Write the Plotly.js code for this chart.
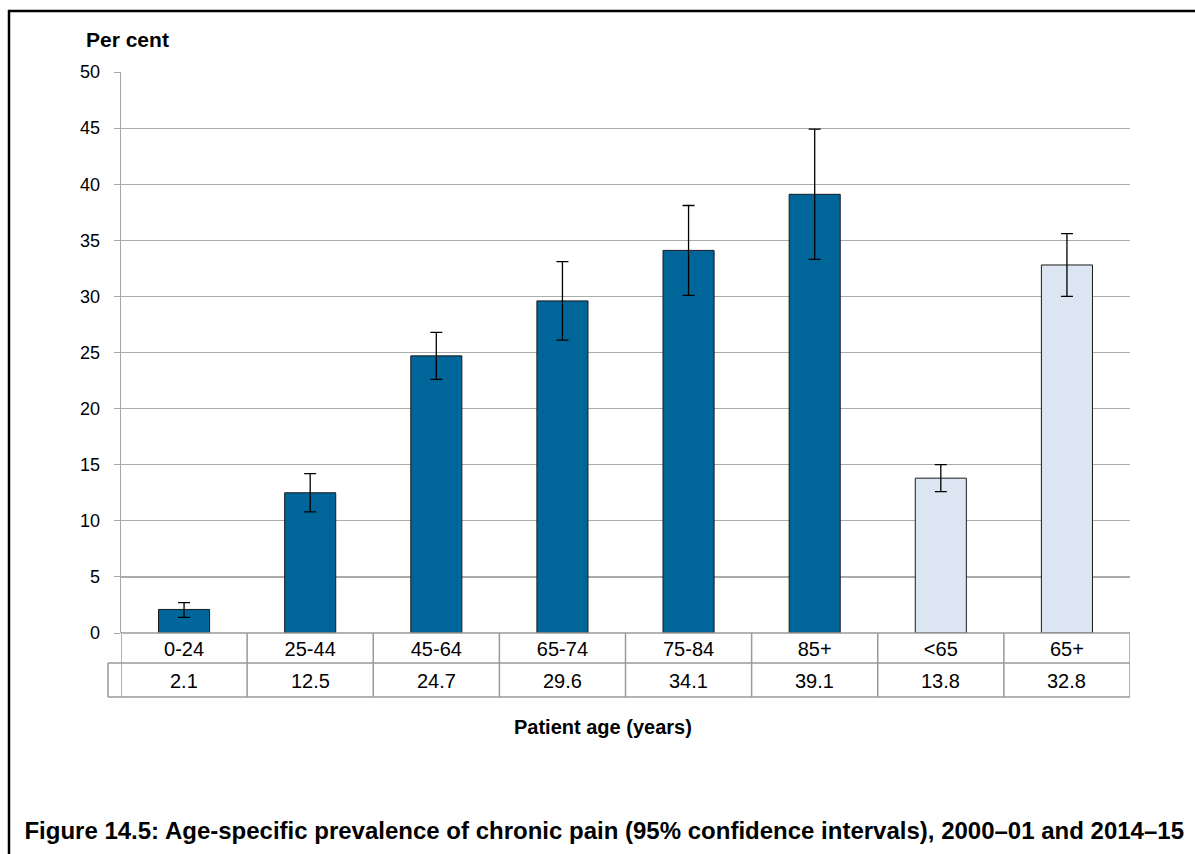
<!DOCTYPE html>
<html>
<head>
<meta charset="utf-8">
<script src="https://cdn.plot.ly/plotly-3.0.1.min.js"></script>
<style>html,body{margin:0;padding:0;background:#fff;}#chart{width:1195px;height:854px;}</style>
</head>
<body>
<div id="chart"></div>
<script>
const categories = ["0-24", "25-44", "45-64", "65-74", "75-84", "85+", "<65", "65+"];
const prevalence = [2.1, 12.5, 24.7, 29.6, 34.1, 39.1, 13.8, 32.8];
const ciUpper = [2.7, 14.2, 26.8, 33.1, 38.1, 44.9, 15.0, 35.6];
const ciLower = [1.4, 10.8, 22.6, 26.1, 30.1, 33.3, 12.6, 30.0];
const barColors = ["#006699", "#006699", "#006699", "#006699", "#006699", "#006699", "#dce6f2", "#dce6f2"];
const yTicks = [0, 5, 10, 15, 20, 25, 30, 35, 40, 45, 50];

const FONT = "Liberation Sans, Arial, sans-serif";
const idx = categories.map((c, i) => i);

const trace = {
  type: "bar",
  x: idx,
  y: prevalence,
  marker: { color: barColors, line: { color: "#1a1a1a", width: 1 } },
  width: 0.405,
  error_y: {
    type: "data",
    symmetric: false,
    array: prevalence.map((v, i) => +(ciUpper[i] - v).toFixed(2)),
    arrayminus: prevalence.map((v, i) => +(v - ciLower[i]).toFixed(2)),
    color: "#000",
    thickness: 1.3,
    width: 6
  },
  hoverinfo: "none",
  showlegend: false
};

// Table grid (data table under the axis)
const tableLine = { color: "#9a9a9a", width: 1.5 };
const row1Bottom = (633 - 663) / 561;
const row2Bottom = (633 - 697) / 561;
const shapes = [];
for (let k = 0; k <= categories.length; k++) {
  shapes.push({ type: "line", xref: "x", yref: "paper", x0: k - 0.5, x1: k - 0.5, y0: 0, y1: row2Bottom, line: tableLine });
}
shapes.push({ type: "line", xref: "paper", yref: "paper", x0: 0, x1: 1, y0: 0, y1: 0, line: tableLine });
shapes.push({ type: "line", xref: "paper", yref: "paper", x0: (108 - 121) / 1009, x1: 1, y0: row1Bottom, y1: row1Bottom, line: tableLine });
shapes.push({ type: "line", xref: "paper", yref: "paper", x0: (108 - 121) / 1009, x1: 1, y0: row2Bottom, y1: row2Bottom, line: tableLine });
shapes.push({ type: "line", xref: "paper", yref: "paper", x0: (108 - 121) / 1009, x1: (108 - 121) / 1009, y0: row1Bottom, y1: row2Bottom, line: tableLine });
// Outer figure frame (left and top)
shapes.push({ type: "line", xref: "paper", yref: "paper", x0: (9 - 121) / 1009, x1: (9 - 121) / 1009, y0: (633 - 10) / 561, y1: (633 - 870) / 561, line: { color: "#000", width: 2.5 } });
shapes.push({ type: "line", xref: "paper", yref: "paper", x0: (8 - 121) / 1009, x1: (1200 - 121) / 1009, y0: (633 - 11) / 561, y1: (633 - 11) / 561, line: { color: "#000", width: 2.5 } });

const annotations = categories.map((c, i) => ({
  x: i, xref: "x", y: (633 - 680.5) / 561, yref: "paper",
  text: prevalence[i].toFixed(1), showarrow: false,
  font: { family: FONT, size: 20, color: "#000" }, xanchor: "center", yanchor: "middle"
}));
annotations.push({
  x: (84 - 121) / 1009, xref: "paper", y: (633 - 40) / 561, yref: "paper",
  text: "<b>Per cent</b>", showarrow: false, xanchor: "left", yanchor: "middle",
  font: { family: FONT, size: 21, color: "#000" }
});
annotations.push({
  x: (603 - 121) / 1009, xref: "paper", y: (633 - 727) / 561, yref: "paper",
  text: "<b>Patient age (years)</b>", showarrow: false, xanchor: "center", yanchor: "middle",
  font: { family: FONT, size: 20, color: "#000" }
});

const layout = {
  width: 1195, height: 854,
  margin: { l: 121, r: 65, t: 72, b: 221 },
  paper_bgcolor: "#fff", plot_bgcolor: "#fff",
  font: { family: FONT, color: "#000" },
  title: {
    text: "<b>Figure 14.5: Age-specific prevalence of chronic pain (95% confidence intervals), 2000–01 and 2014–15</b>",
    x: 1184 / 1195, xanchor: "right", xref: "container",
    y: 1 - 831 / 854, yanchor: "middle", yref: "container",
    font: { family: FONT, size: 24, color: "#000" }
  },
  xaxis: {
    range: [-0.5, categories.length - 0.5],
    tickmode: "array", tickvals: idx, ticktext: categories,
    tickfont: { family: FONT, size: 20, color: "#000" },
    ticks: "", showgrid: false, zeroline: false, showline: false,
    ticklabelstandoff: 2, fixedrange: true
  },
  yaxis: {
    range: [0, 50], tickmode: "array", tickvals: yTicks,
    tickfont: { family: FONT, size: 18, color: "#000" },
    ticks: "outside", ticklen: 6, tickcolor: "#a6a6a6", tickwidth: 1,
    ticklabelstandoff: 10,
    showgrid: true, gridcolor: "#ababab", gridwidth: 1.2,
    showline: true, linecolor: "#a6a6a6", linewidth: 1.3,
    zeroline: false, fixedrange: true
  },
  shapes: shapes,
  annotations: annotations,
  bargap: 0.6
};

Plotly.newPlot("chart", [trace], layout, { displayModeBar: false, staticPlot: true });
</script>
</body>
</html>
